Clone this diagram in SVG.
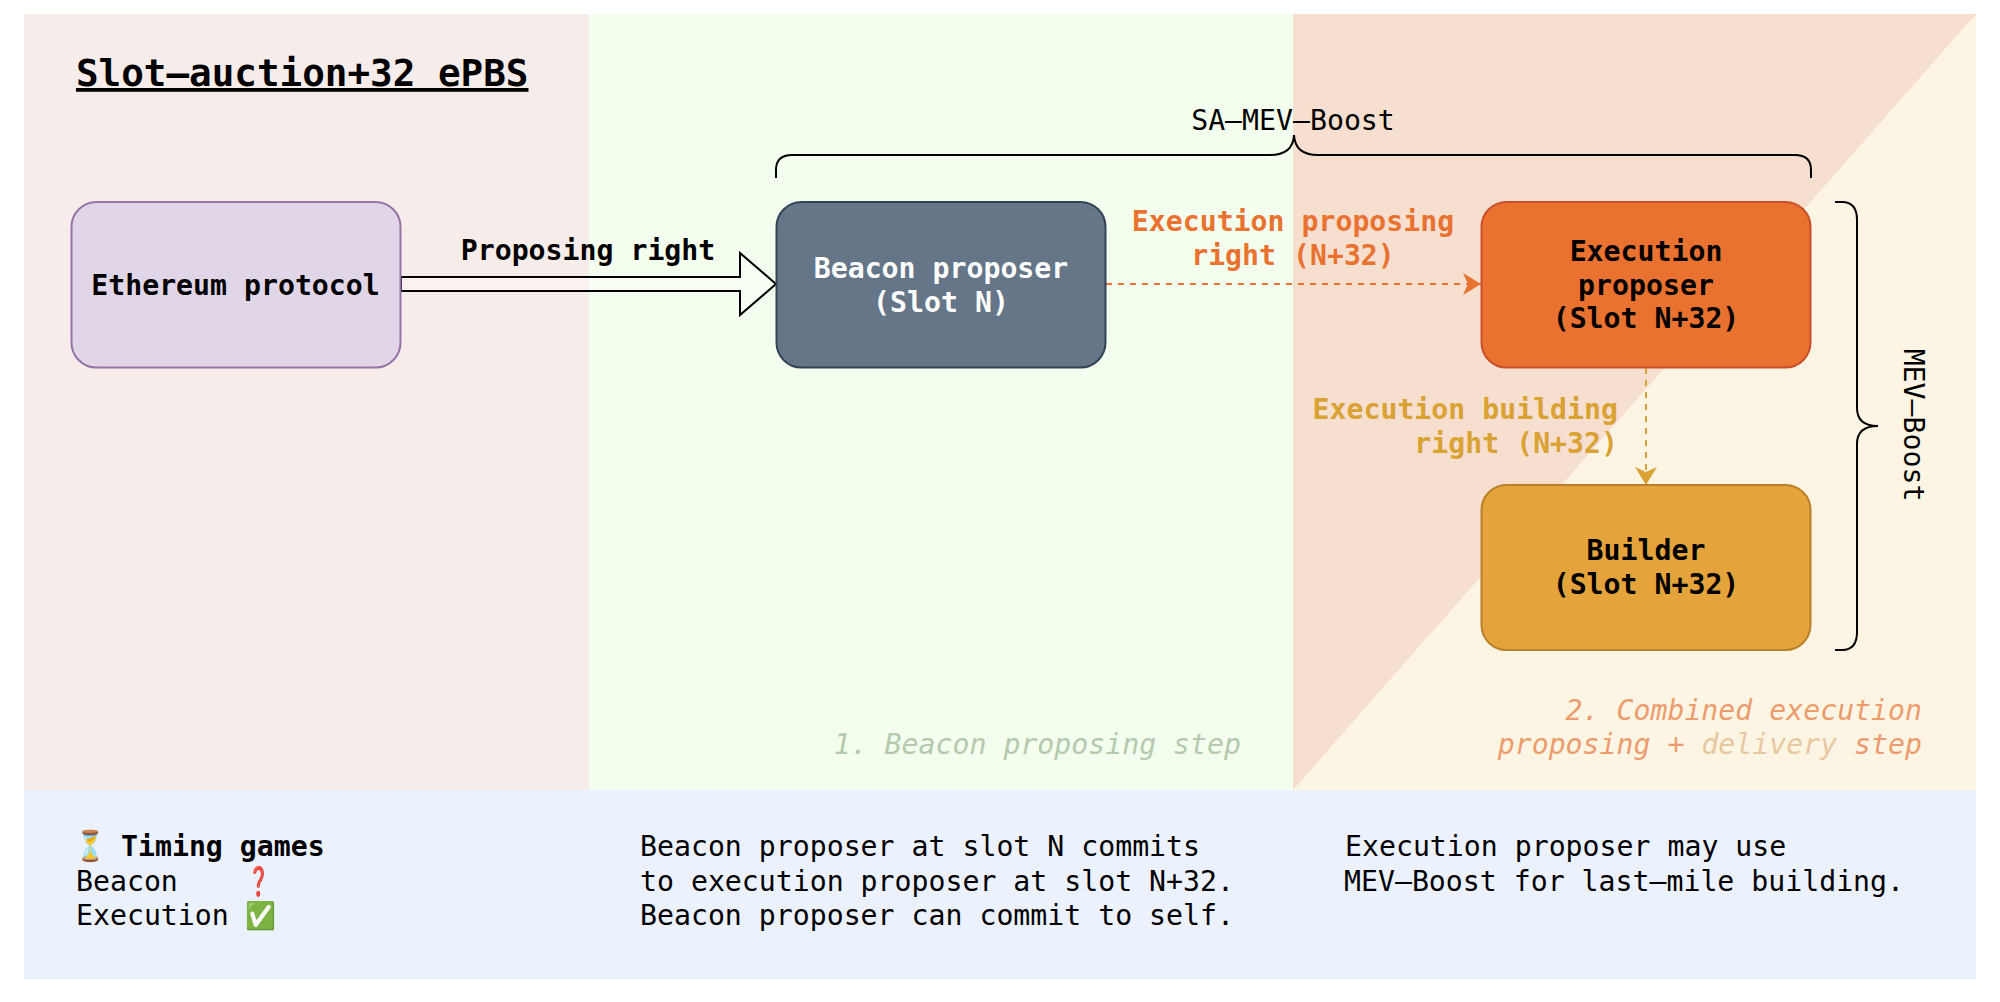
<svg xmlns="http://www.w3.org/2000/svg" width="2000" height="1002" viewBox="0 0 2000 1002">
<style>
text{font-family:"DejaVu Sans Mono","Liberation Mono",monospace;font-size:28.2px;fill:#000}
.b{font-weight:bold}
.m{text-anchor:middle}
.e{text-anchor:end}
.i{font-style:italic}
.node{stroke-width:2}
.br{fill:none;stroke:#000;stroke-width:2}
</style>
<defs>
<marker id="ao" markerUnits="userSpaceOnUse" markerWidth="19" markerHeight="22" refX="18" refY="11" orient="auto"><path d="M0 0L18 11L0 22L5 11Z" fill="#e97230"/></marker>
<marker id="ay" markerUnits="userSpaceOnUse" markerWidth="19" markerHeight="22" refX="18" refY="11" orient="auto"><path d="M0 0L18 11L0 22L5 11Z" fill="#d9a233"/></marker>
</defs>
<rect width="2000" height="1002" fill="#fff"/>
<g id="background">
<rect x="24" y="14" width="565" height="776" fill="#f6ece9"/>
<rect x="589" y="14" width="704" height="776" fill="#f3feee"/>
<rect x="1293" y="14" width="683" height="776" fill="#fdf5e4"/>
<path d="M1293 14H1976L1293 790Z" fill="#f6dfcf"/>
<rect x="24" y="790" width="1952" height="189" fill="#ecf1fe"/>
</g>
<text id="title" class="b" x="76" y="86" style="font-size:37.6px" text-decoration="underline">Slot–auction+32 ePBS</text>
<g id="connectors">
<path d="M401 277H740V253L776 284L740 315V291H401Z" fill="#fff" fill-opacity=".35" stroke="#000" stroke-width="2"/>
<path d="M1106 284H1481" fill="none" stroke="#e97230" stroke-width="2" stroke-dasharray="6 6" marker-end="url(#ao)"/>
<path d="M1646 368V485" fill="none" stroke="#d9a233" stroke-width="2" stroke-dasharray="6 6" marker-end="url(#ay)"/>
</g>
<g id="edge-labels">
<text class="b m" x="588" y="260">Proposing right</text>
<text class="b m" x="1293" y="231" style="fill:#e97230">Execution proposing</text>
<text class="b m" x="1293" y="265" style="fill:#e97230">right (N+32)</text>
<text class="b e" x="1618" y="419" style="fill:#d9a233">Execution building</text>
<text class="b e" x="1618" y="453" style="fill:#d9a233">right (N+32)</text>
</g>
<g id="ethereum-protocol"><rect class="node" x="71.500" y="202" width="329" height="165.500" rx="25" fill="#e0d6e7" stroke="#9673a6"/><text class="b m" x="235.500" y="295">Ethereum protocol</text></g>
<g id="beacon-proposer"><rect class="node" x="776.500" y="202" width="329" height="165.500" rx="25" fill="#647687" stroke="#314354"/><text class="b m" x="941" y="278" style="fill:#fff">Beacon proposer</text><text class="b m" x="941" y="312" style="fill:#fff">(Slot N)</text></g>
<g id="execution-proposer"><rect class="node" x="1481.500" y="202" width="329" height="165.500" rx="25" fill="#e97230" stroke="#c9502a"/><text class="b m" x="1646" y="261">Execution</text><text class="b m" x="1646" y="295">proposer</text><text class="b m" x="1646" y="328">(Slot N+32)</text></g>
<g id="builder"><rect class="node" x="1481.500" y="485" width="329" height="165" rx="25" fill="#e5a43b" stroke="#b97f2a"/><text class="b m" x="1646" y="560">Builder</text><text class="b m" x="1646" y="594">(Slot N+32)</text></g>
<g id="braces">
<path class="br" d="M776 178V170Q776 155 792 155H1270Q1293 155 1294 135Q1295 155 1318 155H1795Q1811 155 1811 170V178"/>
<path class="br" d="M1835 202H1842Q1857 202 1857 220V408Q1857 426 1878 426Q1857 426 1857 444V632Q1857 650 1842 650H1835"/>
</g>
<text class="m" x="1293" y="130">SA–MEV–Boost</text>
<text class="m" transform="translate(1904 425) rotate(90)">MEV–Boost</text>
<text class="e i" x="1241" y="754" style="fill:#b5c9ad">1. Beacon proposing step</text>
<text class="e i" x="1922" y="720" style="fill:#ed9c6d">2. Combined execution</text>
<text class="e i" x="1922" y="754" style="fill:#ed9c6d">proposing + <tspan style="fill:#e8c8a0">delivery</tspan> step</text>
<g id="notes">
<text class="m" transform="translate(90 856) scale(.75 1.05)">⏳</text>
<text class="b" x="121" y="856">Timing games</text>
<text x="76" y="891">Beacon</text><text class="m" transform="translate(259 891) scale(.6 1)" style="fill:#d32f2f">❓</text>
<text x="76" y="925">Execution</text><text class="m" transform="translate(260 925) scale(.88 .95)" style="fill:#4caf50">✅</text>
<text x="640" y="856">Beacon proposer at slot N commits</text>
<text x="640" y="891">to execution proposer at slot N+32.</text>
<text x="640" y="925">Beacon proposer can commit to self.</text>
<text x="1345" y="856">Execution proposer may use</text>
<text x="1344" y="891">MEV–Boost for last–mile building.</text>
</g>
</svg>
